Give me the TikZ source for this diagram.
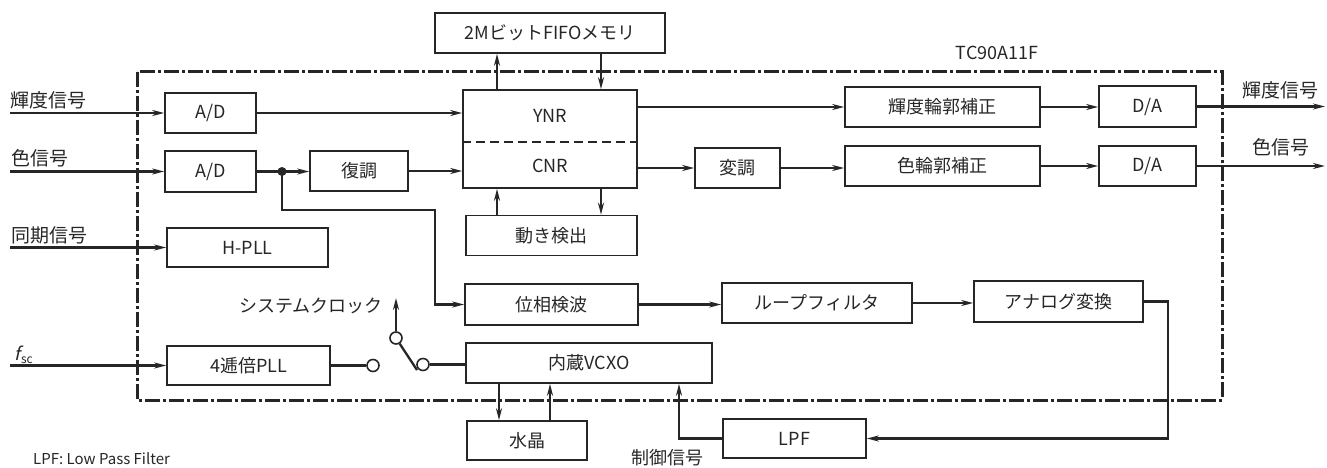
\documentclass[tikz,border=0pt]{standalone}
\usepackage{fontspec}
\setmainfont{Noto Sans CJK JP}
\newfontfamily\slfont[FakeSlant=0.22]{Noto Sans CJK JP}
\usetikzlibrary{arrows.meta}
\begin{document}
\begin{tikzpicture}[x=1pt,y=-1pt,
  blk/.style={draw=black!85, line width=1.6pt, inner sep=0pt, font=\fontsize{18}{18}\selectfont, text=black!85},
  conn/.style={line width=2.3pt, draw=black!85},
  arr/.style={conn, -{Stealth[length=12pt,width=6pt]}},
  lbl/.style={font=\fontsize{19}{19}\selectfont, inner sep=0pt, text=black!85},
  txt/.style={font=\fontsize{18}{18}\selectfont, inner sep=0pt, text=black!85},
  bound/.style={line width=3pt, draw=black!85, dash pattern=on 15pt off 3pt on 3pt off 3pt},
  sw/.style={circle, draw=black!85, line width=1.6pt, minimum size=12pt, inner sep=0pt, fill=white},
]
\useasboundingbox (0,0) rectangle (1327,468);

% chip boundary
\draw[bound] (137,72) rectangle (1222,400);
\node[txt] (chipname) at (997,53) {TC90A11F};

% blocks
\node[blk, minimum width=230pt, minimum height=40pt] (fifo) at (550,33) {2MビットFIFOメモリ};
\node[blk, minimum width=91pt, minimum height=40pt] (adY) at (210.5,113) {A/D};
\node[blk, minimum width=91pt, minimum height=41pt] (adC) at (210.5,171.5) {A/D};
\node[blk, minimum width=98pt, minimum height=40pt] (fuku) at (359,171) {復調};
\node[blk, minimum width=174pt, minimum height=98pt] (ync) at (550,139) {};
\node[txt] (ynr) at (550,116) {YNR};
\node[txt] (cnr) at (550,166) {CNR};
\node[blk, minimum width=171pt, minimum height=40pt] (ugoki) at (551.5,235.5) {動き検出};
\node[blk, minimum width=85pt, minimum height=40pt] (hencho) at (737.5,168) {変調};
\node[blk, minimum width=195pt, minimum height=40pt] (kirin) at (942.5,107) {輝度輪郭補正};
\node[blk, minimum width=195pt, minimum height=40pt] (irorin) at (942.5,166) {色輪郭補正};
\node[blk, minimum width=97pt, minimum height=41pt] (daY) at (1147.5,106.5) {D/A};
\node[blk, minimum width=97pt, minimum height=40pt] (daC) at (1147.5,166) {D/A};
\node[blk, minimum width=161pt, minimum height=39pt] (hpll) at (247.5,247.5) {H-PLL};
\node[blk, minimum width=173pt, minimum height=41pt] (isou) at (551.5,304.5) {位相検波};
\node[blk, minimum width=190pt, minimum height=40pt] (loop) at (817,303) {ループフィルタ};
\node[blk, minimum width=169pt, minimum height=41pt] (analog) at (1058.5,301.5) {アナログ変換};
\node[blk, minimum width=163pt, minimum height=39pt] (pll4) at (248.5,365.5) {4逓倍PLL};
\node[blk, minimum width=246pt, minimum height=40pt] (vcxo) at (589,363) {内蔵VCXO};
\node[blk, minimum width=120pt, minimum height=39pt] (suisho) at (527,440.5) {水晶};
\node[blk, minimum width=143pt, minimum height=39pt] (lpf) at (794.5,438.5) {LPF};

% YNR/CNR divider
\draw[line width=1.4pt, draw=black!85, dash pattern=on 9pt off 5pt] ([yshift=-3pt]ync.west) -- ([yshift=-3pt]ync.east);

% outside labels
\node[lbl, anchor=west] (lblYin) at (10,100) {輝度信号};
\node[lbl, anchor=west] (lblCin) at (11,158) {色信号};
\node[lbl, anchor=west] (lblSin) at (11,235) {同期信号};
\node[inner sep=0pt, anchor=west, text=black!85] (lblF) at (14,355) {{\fontsize{18}{18}\slfont f}\kern1pt\raisebox{-3pt}{\normalfont\fontsize{12}{12}\selectfont sc}};
\node[lbl, anchor=west] (lblYout) at (1242,90) {輝度信号};
\node[lbl, anchor=west] (lblCout) at (1252,147) {色信号};
\node[txt] (lblSys) at (311,306) {システムクロック};
\node[txt] (lblCtl) at (667,458) {制御信号};
\node[inner sep=0pt, anchor=base west, text=black!85, font=\fontsize{15}{15}\selectfont] (note) at (33,464) {LPF: Low Pass Filter};

% free ends
\coordinate (inY) at (10,113);
\coordinate (inC) at (10,171.5);
\coordinate (inS) at (10,247.5);
\coordinate (inF) at (10,365.5);
\coordinate (outY) at (1325,106.5);
\coordinate (outC) at (1325,166);
\coordinate (jn) at (282,171.5);
\coordinate (c1) at (435,210);
\coordinate (xa) at (497,0);
\coordinate (xb) at (601,0);
\coordinate (xd) at (499,0);
\coordinate (xe) at (550,0);
\coordinate (c2x) at (1168,0);
\coordinate (c3x) at (679,0);
\coordinate (sys) at (396,298);
\coordinate (lev) at (417,370);

% row 1
\draw[arr] (inY) -- (adY.west);
\draw[arr] (adY.east) -- (adY.east -| ync.west);
\draw[arr] (ync.east |- kirin.west) -- (kirin.west);
\draw[arr] (kirin.east) -- (kirin.east -| daY.west);
\draw[arr] (daY.east) -- (outY);

% row 2
\draw[arr] (inC) -- (adC.west);
\draw[arr] (adC.east) -- (adC.east -| fuku.west);
\fill[black!85] (jn) circle (4.5pt);
\draw[arr] (fuku.east) -- (fuku.east -| ync.west);
\draw[arr] (ync.east |- hencho.west) -- (hencho.west);
\draw[arr] (hencho.east) -- (hencho.east -| irorin.west);
\draw[arr] (irorin.east) -- (irorin.east -| daC.west);
\draw[arr] (daC.east) -- (outC);

% memory and motion detection
\draw[arr] (ync.north -| xa) -- (fifo.south -| xa);
\draw[arr] (fifo.south -| xb) -- (ync.north -| xb);
\draw[arr] (ugoki.north -| xa) -- (ync.south -| xa);
\draw[arr] (ync.south -| xb) -- (ugoki.north -| xb);

% sync
\draw[arr] (inS) -- (hpll.west);

% PLL loop
\draw[arr] (jn) |- (c1) -- (c1 |- isou.west) -- (isou.west);
\draw[arr] (isou.east) -- (isou.east -| loop.west);
\draw[arr] (loop.east) -- (loop.east -| analog.west);
\draw[arr] (analog.east) -| (lpf.east -| c2x) -- (lpf.east);
\draw[arr] (lpf.west) -| (vcxo.south -| c3x);
\draw[arr] (vcxo.south -| xd) -- (suisho.north -| xd);
\draw[arr] (suisho.north -| xe) -- (vcxo.south -| xe);

% fsc and switch
\draw[arr] (inF) -- (pll4.west);
\node[sw] (s1) at (373,365.5) {};
\node[sw] (s2) at (396,338) {};
\node[sw] (s3) at (423,364.5) {};
\draw[conn] (pll4.east) -- (s1.west);
\draw[conn] (s3.east) -- (s3.east -| vcxo.west);
\draw[arr] (s2.north) -- (sys);
\draw[conn] (s2.-57) -- (lev);
\end{tikzpicture}
\end{document}
